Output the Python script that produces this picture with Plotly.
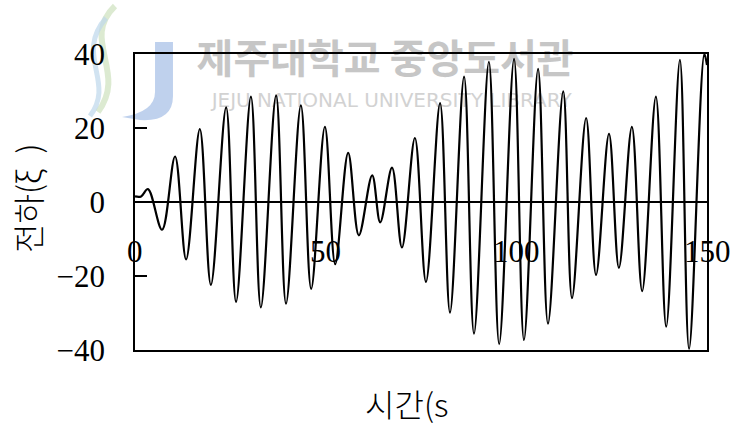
import plotly.graph_objects as go

# Turning points of the charge response: time (s) and charge
time_s = [0.0, 1.6, 3.4, 7.1, 10.5, 13.4, 17.0, 19.9, 23.9, 26.5, 30.4, 33.0,
          37.0, 39.6, 43.5, 46.2, 49.8, 52.5, 55.9, 58.7, 62.2, 64.3, 67.4,
          70.0, 73.4, 76.3, 80.0, 82.6, 86.3, 88.9, 92.8, 95.5, 99.4, 102.0,
          105.7, 108.3, 112.3, 114.6, 118.3, 120.9, 124.3, 126.9, 130.3,
          133.0, 136.6, 139.3, 142.9, 145.3, 149.3, 150.0]
charge = [1.5, 1.5, 3.5, -7.5, 12.3, -15.5, 19.7, -22.4, 25.6, -27.0, 28.5,
          -28.5, 28.8, -27.5, 26.1, -23.5, 20.3, -16.8, 13.3, -9.0, 7.2, -5.5,
          9.3, -12.3, 17.3, -21.6, 26.7, -29.9, 33.9, -35.6, 37.9, -38.4, 38.7,
          -37.3, 36.0, -32.9, 29.9, -26.0, 22.7, -19.7, 18.4, -17.8, 20.3,
          -24.1, 28.5, -33.7, 38.4, -39.7, 40.0, 37.0]

x_tick_vals = [0, 50, 100, 150]
x_tick_text = ["0", "50", "100", "150"]
y_tick_vals = [-40, -20, 0, 20, 40]
y_tick_text = ["\u221240", "\u221220", "0", "20", "40"]

x_title = "시간(s"
y_title = "전하(ξ\u2002)"
mark_kr = "제주대학교 중앙도서관"
mark_en = "JEJU NATIONAL UNIVERSITY LIBRARY"

W, H = 730, 425
ML, MR, MT, MB = 135, 23, 54, 75
PW, PH = W - ML - MR, H - MT - MB


def px(x, y):
    """Pixel position -> paper coordinates."""
    return (x - ML) / PW, (H - MB - y) / PH


def path(cmds):
    out = []
    for c in cmds:
        if isinstance(c, str):
            out.append(c)
        else:
            a, b = px(*c)
            out.append(f"{a:.4f},{b:.4f}")
    return " ".join(out)


serif = "Liberation Serif"
kr = "Noto Sans CJK KR"

fig = go.Figure()

# library mark behind the data
fig.add_trace(go.Scatter(
    x=[65.6], y=[37.6], mode="text", text=[mark_kr], cliponaxis=False,
    textfont=dict(family=kr, size=40, color="#c6c6c6", weight=700),
    hoverinfo="skip", showlegend=False))
fig.add_trace(go.Scatter(
    x=[67.3], y=[27.0], mode="text", text=[mark_en], cliponaxis=False,
    textfont=dict(family="DejaVu Sans", size=20, color="#d2d2d2"),
    hoverinfo="skip", showlegend=False))

fig.add_trace(go.Scatter(
    x=time_s, y=charge, mode="lines",
    line=dict(color="black", width=2.2, shape="spline", smoothing=1.0),
    hoverinfo="skip", showlegend=False))

shapes = [
    # J emblem
    dict(type="path", xref="paper", yref="paper", layer="below",
         path=path(["M", (155, 42), "L", (173, 42), "L", (173, 96), "Q",
                    (173, 122), (140, 120), "L", (122, 117), "Q", (155, 112),
                    (155, 92), "Z"]),
         fillcolor="rgba(175,198,232,0.8)", line=dict(width=0)),
    # swirls
    dict(type="path", xref="paper", yref="paper", layer="below",
         path=path(["M", (115, 6), "C", (80, 40), (128, 72), (98, 112)]),
         line=dict(color="rgba(205,225,190,0.7)", width=6)),
    dict(type="path", xref="paper", yref="paper", layer="below",
         path=path(["M", (106, 18), "C", (74, 55), (116, 82), (90, 116)]),
         line=dict(color="rgba(190,215,235,0.7)", width=5)),
]

annotations = [
    dict(x=v, y=-13.4, xref="x", yref="y", text=t, showarrow=False,
         xanchor="center", yanchor="middle",
         font=dict(family=serif, size=31, color="black"))
    for v, t in zip(x_tick_vals, x_tick_text)
]
ax, ay = px(27, 198)
annotations.append(dict(x=ax, y=ay, xref="paper", yref="paper", text=y_title,
                        textangle=-90, showarrow=False, xanchor="center",
                        yanchor="middle",
                        font=dict(family=kr, size=32, color="black",
                                  weight=300)))
bx, by = px(406, 403)
annotations.append(dict(x=bx, y=by, xref="paper", yref="paper", text=x_title,
                        showarrow=False, xanchor="center", yanchor="middle",
                        font=dict(family=kr, size=32, color="black",
                                  weight=300)))

fig.update_layout(
    width=W, height=H,
    margin=dict(l=ML, r=MR, t=MT, b=MB, pad=0),
    paper_bgcolor="white", plot_bgcolor="white",
    showlegend=False,
    shapes=shapes, annotations=annotations,
    xaxis=dict(range=[0, 150], showline=True, linecolor="black", linewidth=1.5,
               mirror=True, showgrid=False, zeroline=False,
               showticklabels=False, ticks=""),
    yaxis=dict(range=[-40, 40], tickvals=y_tick_vals, ticktext=y_tick_text,
               ticks="inside", ticklen=12, tickwidth=1.5, tickcolor="black",
               tickfont=dict(family=serif, size=31, color="black"),
               ticklabelstandoff=22,
               showline=True, linecolor="black", linewidth=1.5, mirror=True,
               showgrid=False, zeroline=True, zerolinecolor="black",
               zerolinewidth=1.5),
)

fig.write_html("out.html")
